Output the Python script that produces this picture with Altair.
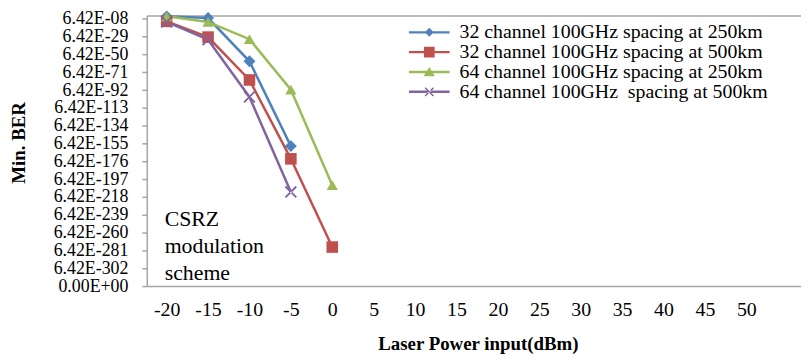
import altair as alt
import pandas as pd

# ---------------- data ----------------
power = [-20, -15, -10, -5, 0]
series_names = [
    "32 channel 100GHz spacing at 250km",
    "32 channel 100GHz spacing at 500km",
    "64 channel 100GHz spacing at 250km",
    "64 channel 100GHz\u00a0 spacing at 500km",
]
# log10-style exponent of min. BER
ber_32_250 = [-5, -7, -58, -158]
ber_32_500 = [-11, -29.5, -80, -173, -277]
ber_64_250 = [-5, -11.6, -32, -91.5, -204]
ber_64_500 = [-11.6, -32.6, -100, -212]

x_ticks = [-20, -15, -10, -5, 0, 5, 10, 15, 20, 25, 30, 35, 40, 45, 50]
y_tick_values = [-8, -29, -50, -71, -92, -113, -134, -155, -176, -197, -218,
                 -239, -260, -281, -302, -323]
y_tick_labels = ["6.42E-08", "6.42E-29", "6.42E-50", "6.42E-71", "6.42E-92",
                 "6.42E-113", "6.42E-134", "6.42E-155", "6.42E-176", "6.42E-197",
                 "6.42E-218", "6.42E-239", "6.42E-260", "6.42E-281", "6.42E-302",
                 "0.00E+00"]
note_lines = ["CSRZ", "modulation", "scheme"]

rows = []
for name, vals in zip(series_names, [ber_32_250, ber_32_500, ber_64_250, ber_64_500]):
    for p, v in zip(power, vals):
        rows.append({"series": name, "power": p, "exp": v})
df = pd.DataFrame(rows)

# ---------------- styles ----------------
FONT = "Liberation Serif"
GRAY = "#a6a6a6"
colors = ["#4F81BD", "#C0504D", "#9BBB59", "#8064A2"]

def xpoly(a, h):
    o = h / 2 ** 0.5
    return (f"M{-a+o},{-a-o}L{a+o},{a-o}L{a-o},{a+o}L{-a-o},{-a+o}Z"
            f"M{-a+o},{a+o}L{a+o},{-a+o}L{a-o},{-a-o}L{-a-o},{a-o}Z")

data_shapes = ["diamond", "square", "triangle-up", xpoly(1, 0.17)]
data_sizes = [144, 121, 169, 100]

LINE = "M-3.42,-0.2H3.42V0.2H-3.42Z"
legend_shapes = [
    LINE + "M0,-0.75L0.75,0L0,0.75L-0.75,0Z",
    LINE + "M-0.9,-0.9H0.9V0.9H-0.9Z",
    LINE + "M0,-0.85L0.95,0.7H-0.95Z",
    LINE + xpoly(0.7, 0.12),
]

x_scale = alt.Scale(domain=[-22.4, 56.6], nice=False, zero=False)
y_scale = alt.Scale(domain=[-323, -4], nice=False, zero=False)
color_scale = alt.Scale(domain=series_names, range=colors)

label_expr = ("[" + ",".join(f"'{s}'" for s in y_tick_labels) + "][indexof(["
              + ",".join(str(v) for v in y_tick_values) + "], datum.value)]")

x_axis = alt.Axis(values=x_ticks, labelExpr="datum.value + ''", ticks=False,
                  grid=False, domainColor=GRAY, domainWidth=1.5, labelFont=FONT,
                  labelFontSize=20, labelColor="#000000", labelPadding=14,
                  labelFlush=False, labelOverlap=False,
                  title="Laser Power input(dBm)", titleFont=FONT,
                  titleFontSize=19, titleFontWeight="bold", titleColor="#000000",
                  titleX=334, titleY=58, titleAlign="center",
                  titleBaseline="middle")
y_axis = alt.Axis(values=y_tick_values, labelExpr=label_expr, grid=False,
                  tickSize=5, tickColor=GRAY, tickWidth=1.5, domainColor=GRAY,
                  domainWidth=1.5, labelFont=FONT, labelFontSize=18,
                  labelColor="#000000", labelPadding=14, labelFlush=False,
                  labelOverlap=False, title="Min. BER", titleFont=FONT,
                  titleFontSize=19, titleFontWeight="bold", titleColor="#000000",
                  titleX=-129, titleY=128, titleAngle=-90, titleAlign="center",
                  titleBaseline="middle")

lines = alt.Chart(df).mark_line(strokeWidth=2.5).encode(
    x=alt.X("power:Q", scale=x_scale, axis=x_axis),
    y=alt.Y("exp:Q", scale=y_scale, axis=y_axis),
    color=alt.Color("series:N", scale=color_scale, legend=None),
)

points = alt.Chart(df).mark_point(filled=True, opacity=1).encode(
    x=alt.X("power:Q", scale=x_scale, axis=None),
    y=alt.Y("exp:Q", scale=y_scale, axis=None),
    color=alt.Color("series:N", scale=color_scale, legend=None),
    shape=alt.Shape("series:N", scale=alt.Scale(domain=series_names, range=data_shapes), legend=None),
    size=alt.Size("series:N", scale=alt.Scale(domain=series_names, range=data_sizes), legend=None),
)

leg = alt.Legend(orient="none", legendX=275, legendY=7, title=None,
                 labelFont=FONT, labelFontSize=20, labelColor="#000000",
                 symbolSize=144, symbolStrokeWidth=0, symbolOffset=0,
                 labelOffset=20.5, rowPadding=-0.8, padding=0, labelLimit=0,
                 symbolOpacity=1)

legend_layer = alt.Chart(df).transform_filter("false").mark_point(
    filled=True, opacity=1, size=144).encode(
    x=alt.X("power:Q", scale=x_scale,
            axis=alt.Axis(orient="top", labels=False, ticks=False, grid=False,
                          domainColor=GRAY, domainWidth=1.5, title=None)),
    y=alt.Y("exp:Q", scale=y_scale, axis=None),
    color=alt.Color("series:N", scale=color_scale, legend=leg),
    shape=alt.Shape("series:N", scale=alt.Scale(domain=series_names, range=legend_shapes), legend=leg),
)

note = alt.Chart(pd.DataFrame({"k": [0]})).mark_text(
    font=FONT, fontSize=22, color="#000000", align="left",
    baseline="alphabetic", lineHeight=27.5).encode(
    x=alt.XDatum(-20.24, type="quantitative", scale=x_scale, axis=None),
    y=alt.YDatum(-251.6, type="quantitative", scale=y_scale, axis=None),
    text=alt.value(note_lines),
)

chart = alt.layer(lines, points, legend_layer, note).resolve_scale(
    color="independent", shape="independent", size="independent"
).resolve_axis(x="independent", y="independent").properties(
    width=660, height=273, autosize="none",
    padding={"left": 140, "top": 6, "right": 0, "bottom": 70},
    background="#ffffff",
).configure_view(stroke=None)

chart.save("out.html", embed_options={"renderer": "svg", "actions": False})
